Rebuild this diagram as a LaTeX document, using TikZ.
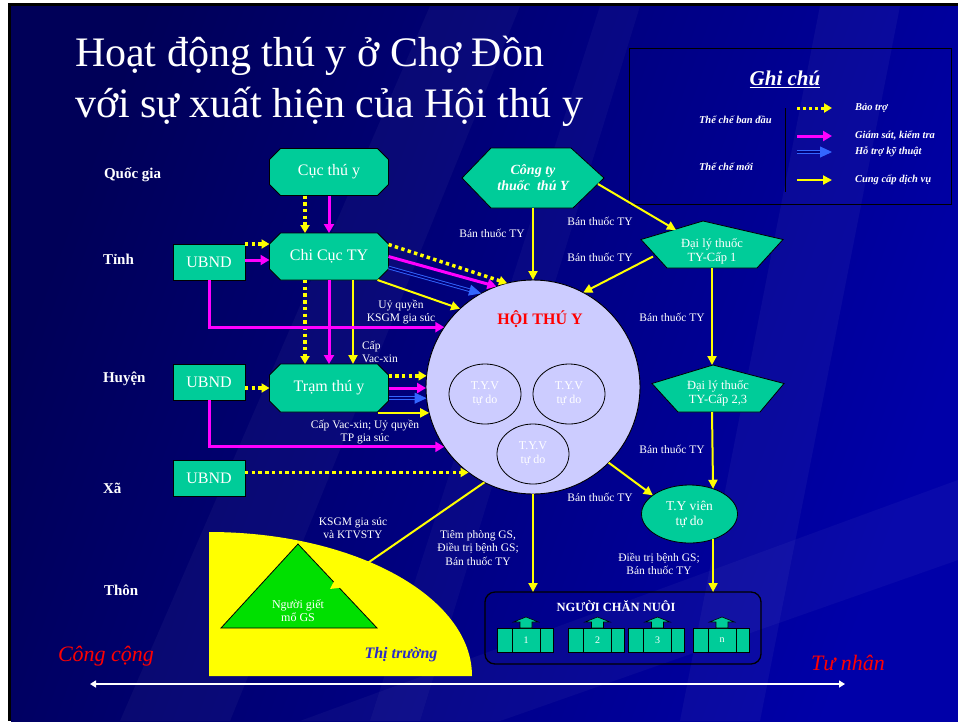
\documentclass[tikz,border=0pt]{standalone}
\usepackage{fontspec}
\setmainfont{Liberation Serif}
\usetikzlibrary{arrows.meta,shapes.geometric,calc}
\definecolor{navyA}{HTML}{000058}
\definecolor{navyB}{HTML}{0000A8}
\definecolor{slide}{HTML}{00007A}
\definecolor{boxgreen}{HTML}{00CC99}
\definecolor{hoifill}{HTML}{CCCCFF}
\definecolor{mag}{HTML}{FF00FF}
\definecolor{yel}{HTML}{FFFF00}
\definecolor{tech}{HTML}{3366FF}
\definecolor{trigreen}{HTML}{00E000}
\definecolor{marketblue}{HTML}{2A2AC8}
\definecolor{alert}{HTML}{FF0000}
\pgfdeclarelayer{bg}
\pgfdeclarelayer{shapes}
\pgfsetlayers{bg,shapes,main}
% octagon with chamfered corners around a named node
\newcommand\octbox[2]{%
  \begin{pgfonlayer}{shapes}
  \fill[boxgreen,draw=black,line width=0.8pt]
    ($(#1.north west)+(#2,0)$) -- ($(#1.north east)+(-#2,0)$) --
    ($(#1.north east)+(0,#2)$) -- ($(#1.south east)+(0,-#2)$) --
    ($(#1.south east)+(-#2,0)$) -- ($(#1.south west)+(#2,0)$) --
    ($(#1.south west)+(0,-#2)$) -- ($(#1.north west)+(0,#2)$) -- cycle;
  \end{pgfonlayer}}
\begin{document}
\begin{tikzpicture}[x=1pt,y=-1pt,
  every node/.style={inner sep=0pt,outer sep=0pt},
  boxtxt/.style={text=white,font=\fontsize{16}{19}\selectfont},
  octnode/.style={boxtxt,minimum width=119pt,minimum height=47pt},
  ubnd/.style={boxtxt,fill=boxgreen,draw=black,line width=0.8pt,minimum width=72pt,minimum height=36pt},
  lbl/.style={text=white,font=\fontsize{11.5}{13.5}\selectfont,align=center},
  level/.style={text=white,font=\bfseries\fontsize{15}{17}\selectfont,anchor=west},
  legtxt/.style={text=white,font=\bfseries\itshape\fontsize{10.5}{12}\selectfont,anchor=west},
  tyv/.style={ellipse,fill=hoifill,draw=black,line width=0.8pt,minimum width=72pt,minimum height=60pt,
     text=white,font=\fontsize{12}{14}\selectfont,align=center},
  magarr/.style={draw=mag,line width=3pt,-{Triangle[length=9pt,width=10pt]}},
  dotarr/.style={draw=yel,line width=3.5pt,dash pattern=on 3.4pt off 3.3pt,-{Triangle[length=8pt,width=9pt]}},
  yelarr/.style={draw=yel,line width=2pt,-{Triangle[length=9pt,width=9pt]}},
  techarr/.style={draw=tech,line width=0.9pt,double=slide,double distance=1.8pt,-{Triangle[length=12pt,width=11pt]}},
  farm/.pic={
    \fill[boxgreen,draw=black,line width=0.6pt] (-29,-12) rectangle (-14,12);
    \fill[boxgreen,draw=black,line width=0.6pt] (-14,-12) rectangle (14,12);
    \fill[boxgreen,draw=black,line width=0.6pt] (14,-12) rectangle (27,12);
    \fill[boxgreen,draw=black,line width=0.6pt] (-6,-12) -- (-6,-18) -- (-12.5,-18) -- (0,-23)
        -- (12.5,-18) -- (6,-18) -- (6,-12) -- cycle;
    \node[text=white,font=\fontsize{10}{12}\selectfont] (-num) at (0,0) {#1};
  }]
\useasboundingbox (0,0) rectangle (958,721);

% slide background
\begin{pgfonlayer}{bg}
  \fill[white] (0,0) rectangle (958,721);
  \fill[black] (8,3) rectangle (958,721);
  \shade[left color=navyA,right color=navyB,shading angle=70] (11,6) rectangle (958,721);
  \fill[white,opacity=0.035] (430,6) -- (520,6) -- (230,721) -- (120,721) -- cycle;
  \fill[white,opacity=0.03] (600,6) -- (640,6) -- (420,721) -- (370,721) -- cycle;
  \fill[white,opacity=0.04] (820,6) -- (900,6) -- (760,721) -- (680,721) -- cycle;
  \fill[white,opacity=0.035] (300,721) -- (958,480) -- (958,560) -- (500,721) -- cycle;
\end{pgfonlayer}

% title
\node[text=white,font=\fontsize{42}{50}\selectfont,anchor=base west] (title1) at (75,66) {Hoạt động thú y ở Chợ Đồn};
\node[text=white,font=\fontsize{42}{50}\selectfont,anchor=base west] (title2) at (75,117) {với sự xuất hiện của Hội thú y};

% legend
\draw[black,line width=1pt] (629,48) rectangle (951,204);
\node[text=white,font=\bfseries\itshape\fontsize{21}{24}\selectfont] (leghead) at (785,79) {\underline{Ghi chú}};
\node[legtxt] (legold) at (699,120) {Thể chế ban đầu};
\node[legtxt] (legnew) at (699,167) {Thể chế mới};
\draw[black,line width=1pt] (785,108) -- (785,192);
\draw[dotarr,line width=3pt,dash pattern=on 3pt off 3pt] (797,108) -- (832,108);
\draw[magarr] (797,136) -- (832,136);
\draw[techarr] (797,152) -- (832,152);
\draw[yelarr] (797,180) -- (832,180);
\node[legtxt] (leg1) at (855,108) {Bảo trợ};
\node[legtxt] (leg2) at (855,136) {Giám sát, kiểm tra};
\node[legtxt] (leg3) at (855,152) {Hỗ trợ kỹ thuật};
\node[legtxt] (leg4) at (855,180) {Cung cấp dịch vụ};

% administrative levels
\node[level] (lvq) at (104,175) {Quốc gia};
\node[level] (lvt) at (103,259) {Tỉnh};
\node[level] (lvh) at (103,379) {Huyện};
\node[level] (lvx) at (103,488) {Xã};
\node[level] (lvth) at (104,590) {Thôn};

% state veterinary chain
\node[octnode] (cuc) at (329,172) {Cục thú y};
\node[octnode] (chicuc) at (329,256.5) {Chi Cục TY};
\node[octnode,minimum height=48pt] (tram) at (329,388) {Trạm thú y};
\octbox{cuc}{11}
\octbox{chicuc}{11}
\octbox{tram}{11}

\node[ubnd] (u1) at (209,262) {UBND};
\node[ubnd] (u2) at (209,382) {UBND};
\node[ubnd] (u3) at (209,478.5) {UBND};

% drug company and dealers
\node[text=white,font=\bfseries\itshape\fontsize{14}{16}\selectfont,align=center,
      minimum width=142pt,minimum height=60pt] (cty) at (533,178) {Công ty\\thuốc~ thú Y};
\begin{pgfonlayer}{shapes}
  \fill[boxgreen,draw=black,line width=0.8pt] (cty.west) -- ($(cty.north west)+(29,0)$) --
     ($(cty.north east)+(-33,0)$) -- (cty.east) -- ($(cty.south east)+(-31,0)$) --
     ($(cty.south west)+(29,0)$) -- cycle;
\end{pgfonlayer}

\node[minimum width=142pt,minimum height=47pt,
      label={[text=white,font=\fontsize{12.5}{13.5}\selectfont,align=center,yshift=-7pt]center:Đại lý thuốc\\TY-Cấp 1}]
      (dl1) at (712,244.5) {};
\node[minimum width=132pt,minimum height=47pt,
      label={[text=white,font=\fontsize{12.5}{13.5}\selectfont,align=center,yshift=-5pt]center:Đại lý thuốc\\TY-Cấp 2,3}]
      (dl23) at (718,388.5) {};
\begin{pgfonlayer}{shapes}
  \fill[boxgreen,draw=black,line width=0.8pt] ($(dl1.west)+(0,-5)$) -- ($(dl1.north)+(-9,0)$) --
     ($(dl1.east)+(0,-5)$) -- ($(dl1.south east)+(-26,0)$) -- ($(dl1.south west)+(26,0)$) -- cycle;
  \fill[boxgreen,draw=black,line width=0.8pt] ($(dl23.west)+(0,-5)$) -- ($(dl23.north)+(-5,0)$) --
     ($(dl23.east)+(0,-5)$) -- ($(dl23.south east)+(-24,0)$) -- ($(dl23.south west)+(26,0)$) -- cycle;
\end{pgfonlayer}

% veterinary association
\node[ellipse,fill=hoifill,draw=black,line width=0.9pt,minimum width=214pt,minimum height=214pt] (hoi) at (533,387) {};
\node[text=alert,font=\bfseries\fontsize{16}{18}\selectfont] (hoititle) at (540,319) {HỘI THÚ Y};
\node[tyv] (tv1) at (485,394) {T.Y.V\\tự do};
\node[tyv] (tv2) at (569,394) {T.Y.V\\tự do};
\node[tyv] (tv3) at (533,454) {T.Y.V\\tự do};

\node[ellipse,fill=boxgreen,draw=black,line width=0.8pt,minimum width=96pt,minimum height=58pt,
      text=white,font=\fontsize{13.5}{15}\selectfont,align=center] (tyv) at (689.5,514) {T.Y viên\\tự do};

% market and slaughterers
\begin{pgfonlayer}{shapes}
  \fill[yel] (209,532) arc[start angle=-90,end angle=0,x radius=263,y radius=144] -- (209,676) -- cycle;
  \fill[trigreen,draw=black,line width=0.8pt] (298,544) -- (377,628) -- (221,628) -- cycle;
\end{pgfonlayer}
\node[text=white,font=\fontsize{12}{13}\selectfont,align=center] (gietmo) at (298,611) {Người giết\\mổ GS};
\node[text=marketblue,font=\bfseries\itshape\fontsize{16}{18}\selectfont] (market) at (401,655) {Thị trường};
\coordinate (gm) at (330,589);

% farmers
\node[draw=black,line width=1.3pt,rounded corners=10pt,minimum width=276pt,minimum height=72pt] (nuoi) at (623,628) {};
\node[text=white,font=\bfseries\fontsize{12.5}{14}\selectfont] (nuoititle) at (616,606) {NGƯỜI CHĂN NUÔI};
\pic (f1) at (526,640) {farm=1};
\pic (f2) at (597.5,640) {farm=2};
\pic (f3) at (657.5,640) {farm=3};
\pic (f4) at (722,640) {farm=n};

% public / private axis
\node[text=alert,font=\itshape\fontsize{22}{24}\selectfont] (pub) at (106,656) {Công cộng};
\node[text=alert,font=\itshape\fontsize{22}{24}\selectfont] (priv) at (848,663) {Tư nhân};
\coordinate (axl) at (90,684);
\coordinate (axr) at (845,684);
\draw[white,line width=2pt,{Triangle[length=6pt,width=7pt]}-{Triangle[length=6pt,width=7pt]}] (axl) -- (axr);

% ---- connectors ----
% Cục -> Chi Cục
\draw[dotarr] ([xshift=-24pt]cuc.south) -- ([xshift=-24pt]chicuc.north);
\draw[magarr] (cuc.south) -- (chicuc.north);
% UBND tỉnh -> Chi Cục
\draw[dotarr] (u1.north east) -- (u1.north east -| chicuc.west);
\draw[magarr] ([yshift=2pt]u1.east) -- ([yshift=2pt]u1.east -| chicuc.west);
% Chi Cục -> Trạm
\draw[dotarr] ([xshift=-24pt]chicuc.south) -- ([xshift=-24pt]tram.north);
\draw[magarr] (chicuc.south) -- (tram.north);
\draw[yelarr] ([xshift=24pt]chicuc.south) -- ([xshift=24pt]tram.north);
% UBND tỉnh -> Hội
\draw[magarr] (u1.south) |- (hoi.146);
% Chi Cục -> Hội
\draw[dotarr] ([yshift=12pt]chicuc.east) -- (hoi.104);
\draw[magarr] (chicuc.east) -- (hoi.110);
\draw[techarr] ([yshift=-11pt]chicuc.east) -- (hoi.119);
\draw[yelarr] ([xshift=-11pt]chicuc.south east) -- (hoi.133);
% Trạm -> Hội
\path (tram.south east) ++(-11,0) coordinate (ty1);
\draw[dotarr] (tram.east |- hoi.174) -- (hoi.174);
\draw[magarr] (tram.east) -- (tram.east -| hoi.west);
\draw[techarr] (tram.east |- hoi.186) -- (hoi.186);
\draw[yelarr] (ty1 |- hoi.194) -- (hoi.194);
% UBND huyện
\draw[dotarr] (tram.west -| u2.east) -- (tram.west);
\draw[magarr] (u2.south) |- (hoi.214);
% UBND xã
\draw[dotarr] (u3.east |- hoi.233) -- (hoi.233);
% drug supply
\draw[yelarr] (cty.south) -- (hoi.north);
\draw[yelarr] ($(cty.east)+(-6,6)$) -- ($(dl1.north)+(-36,9)$);
\draw[yelarr] ($(dl1.west)+(12,12)$) -- (hoi.62);
\draw[yelarr] (dl1.south) -- (dl1.south |- dl23.north);
\draw[yelarr] (dl1.south |- dl23.south) -- (tyv.47);
\draw[yelarr] (hoi.-45) -- (tyv.153);
\draw[yelarr] (hoi.south) -- (hoi.south |- nuoi.north);
\draw[yelarr] (tyv.-47) -- (tyv.-47 |- nuoi.north);
\draw[yelarr] (hoi.243) -- (gm);

% connector labels
\node[lbl] (l1) at (401,312) {Uỷ quyền\\KSGM gia súc};
\node[lbl,align=left,anchor=west] (l2) at (362,352) {Cấp\\Vac-xin};
\node[lbl] (l3) at (365,432) {Cấp Vac-xin; Uỷ quyền\\TP gia súc};
\node[lbl] (l4) at (492,233) {Bán thuốc TY};
\node[lbl] (l5) at (600,221) {Bán thuốc TY};
\node[lbl] (l6) at (600,257) {Bán thuốc TY};
\node[lbl] (l7) at (672,317) {Bán thuốc TY};
\node[lbl] (l8) at (672,449) {Bán thuốc TY};
\node[lbl] (l9) at (600,497) {Bán thuốc TY};
\node[lbl] (l10) at (478,548) {Tiêm phòng GS,\\Điều trị bệnh GS;\\Bán thuốc TY};
\node[lbl] (l11) at (659,564) {Điều trị bệnh GS;\\Bán thuốc TY};
\node[lbl] (l12) at (353,528) {KSGM gia súc\\và KTVSTY};
\end{tikzpicture}
\end{document}
